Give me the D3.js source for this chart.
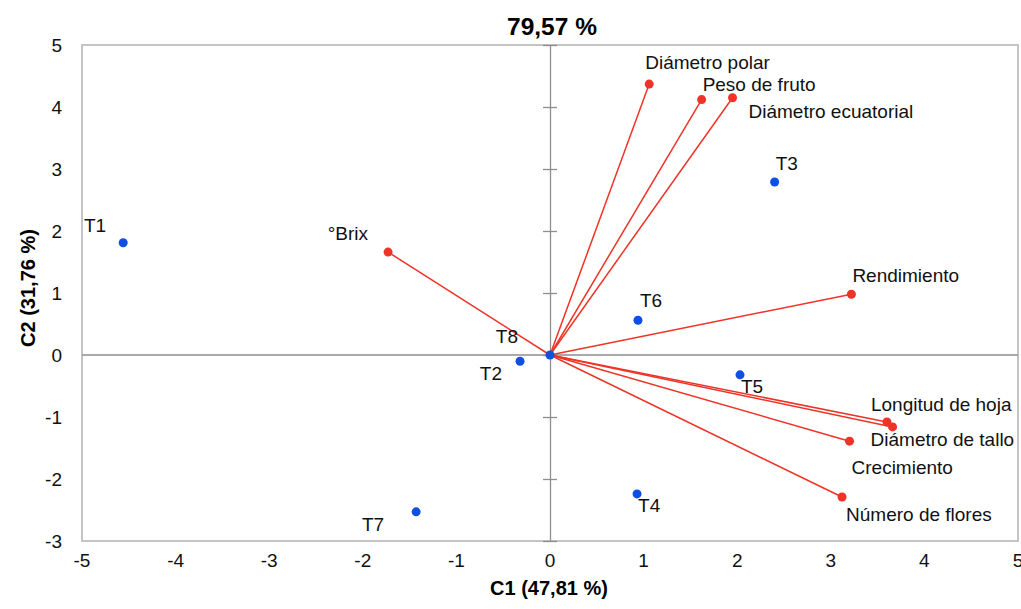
<!DOCTYPE html>
<html><head><meta charset="utf-8">
<script src="https://cdn.jsdelivr.net/npm/d3@7"></script>
<style>body{margin:0;background:#fff}svg{display:block}</style>
</head><body>
<svg id="c" width="1021" height="609"></svg>
<script>
// ---- data ----
const treatments = ["T1","T2","T3","T4","T5","T6","T7","T8"];
const treatC1 = [-4.56,-0.32,2.40,0.93,2.03,0.94,-1.43,0.0];
const treatC2 = [1.81,-0.10,2.79,-2.24,-0.32,0.56,-2.53,0.0];

const variables = ["Diámetro polar","Peso de fruto","Diámetro ecuatorial","Rendimiento","°Brix",
  "Longitud de hoja","Diámetro de tallo","Crecimiento","Número de flores"];
const varC1 = [1.06,1.62,1.95,3.22,-1.73,3.60,3.66,3.20,3.12];
const varC2 = [4.37,4.12,4.15,0.98,1.66,-1.08,-1.16,-1.39,-2.29];

const xTicks = [-5,-4,-3,-2,-1,0,1,2,3,4,5];
const yTicks = [-3,-2,-1,0,1,2,3,4,5];
const title = "79,57 %";
const xTitle = "C1 (47,81 %)";
const yTitle = "C2 (31,76 %)";

// ---- label layout (offsets from point, px) ----
const treatLabelPos = {
  T1:[-17,-11,"end"], T2:[-18,19,"end"], T3:[1,-12,"start"], T4:[1,18,"start"],
  T5:[1,18,"start"], T6:[2,-13,"start"], T7:[-32,19,"end"], T8:[-32,-12,"end"]
};
const varLabelPos = {
  "Diámetro polar":[-4,-15,"start"], "Peso de fruto":[1,-9,"start"],
  "Diámetro ecuatorial":[16,20,"start"], "Rendimiento":[1,-12,"start"],
  "°Brix":[-20,-12,"end"], "Longitud de hoja":[-16,-11,"start"],
  "Diámetro de tallo":[-22,19,"start"], "Crecimiento":[2,33,"start"],
  "Número de flores":[4,24,"start"]
};

// ---- drawing ----
const svg = d3.select("#c");
const L = 82, R = 1018, T = 45, B = 541;
const x = d3.scaleLinear().domain([-5,5]).range([L,R]);
const y = d3.scaleLinear().domain([-3,5]).range([B,T]);
const font = "Liberation Sans, Arial, Helvetica, sans-serif";
const RED = "#ee3327", BLUE = "#0e4fe6";

// border
svg.append("rect").attr("x",L).attr("y",T).attr("width",R-L).attr("height",B-T)
  .attr("fill","none").attr("stroke","#c4c4c4").attr("stroke-width",2);

// zero lines
svg.append("line").attr("x1",L).attr("x2",R).attr("y1",y(0)).attr("y2",y(0))
  .attr("stroke","#8e8e8e").attr("stroke-width",1.3);
const yAxis = d3.axisRight(y).tickValues(yTicks).tickSize(7).tickSizeOuter(0).tickFormat("");
const gy = svg.append("g").attr("transform",`translate(${x(0)},0)`).call(yAxis);
gy.select(".domain").attr("stroke","#8e8e8e").attr("stroke-width",1.3);
gy.selectAll(".tick line").attr("stroke","#8e8e8e").attr("stroke-width",1.3).attr("x1",-7);

// tick labels
const fmt = d => d < 0 ? "-" + Math.abs(d) : String(d);
svg.append("g").selectAll("text").data(xTicks).join("text")
  .attr("x",d=>x(d)).attr("y",567).attr("text-anchor","middle")
  .attr("font-family",font).attr("font-size",19).attr("fill","#111").text(fmt);
svg.append("g").selectAll("text").data(yTicks).join("text")
  .attr("x",62).attr("y",d=>y(d)+7).attr("text-anchor","end")
  .attr("font-family",font).attr("font-size",19).attr("fill","#111").text(fmt);

// titles
svg.append("text").attr("x",552).attr("y",35).attr("text-anchor","middle")
  .attr("font-family",font).attr("font-size",24.5).attr("font-weight","bold").text(title);
svg.append("text").attr("x",549).attr("y",595).attr("text-anchor","middle")
  .attr("font-family",font).attr("font-size",20).attr("font-weight","bold").text(xTitle);
svg.append("text").attr("transform",`translate(35,288) rotate(-90)`).attr("text-anchor","middle")
  .attr("font-family",font).attr("font-size",20).attr("font-weight","bold").text(yTitle);

// variable vectors
const vars = variables.map((n,i)=>({n, c1:varC1[i], c2:varC2[i]}));
svg.append("g").selectAll("line").data(vars).join("line")
  .attr("x1",x(0)).attr("y1",y(0)).attr("x2",d=>x(d.c1)).attr("y2",d=>y(d.c2))
  .attr("stroke",RED).attr("stroke-width",1.5);
svg.append("g").selectAll("circle").data(vars).join("circle")
  .attr("cx",d=>x(d.c1)).attr("cy",d=>y(d.c2)).attr("r",4.5).attr("fill",RED);
svg.append("g").selectAll("text").data(vars).join("text")
  .attr("x",d=>x(d.c1)+varLabelPos[d.n][0]).attr("y",d=>y(d.c2)+varLabelPos[d.n][1])
  .attr("text-anchor",d=>varLabelPos[d.n][2])
  .attr("font-family",font).attr("font-size",19).attr("fill","#111").text(d=>d.n);

// treatments
const tr = treatments.map((n,i)=>({n, c1:treatC1[i], c2:treatC2[i]}));
svg.append("g").selectAll("circle").data(tr).join("circle")
  .attr("cx",d=>x(d.c1)).attr("cy",d=>y(d.c2)).attr("r",4.5).attr("fill",BLUE);
svg.append("g").selectAll("text").data(tr).join("text")
  .attr("x",d=>x(d.c1)+treatLabelPos[d.n][0]).attr("y",d=>y(d.c2)+treatLabelPos[d.n][1])
  .attr("text-anchor",d=>treatLabelPos[d.n][2])
  .attr("font-family",font).attr("font-size",19).attr("fill","#111").text(d=>d.n);
</script>
</body></html>
